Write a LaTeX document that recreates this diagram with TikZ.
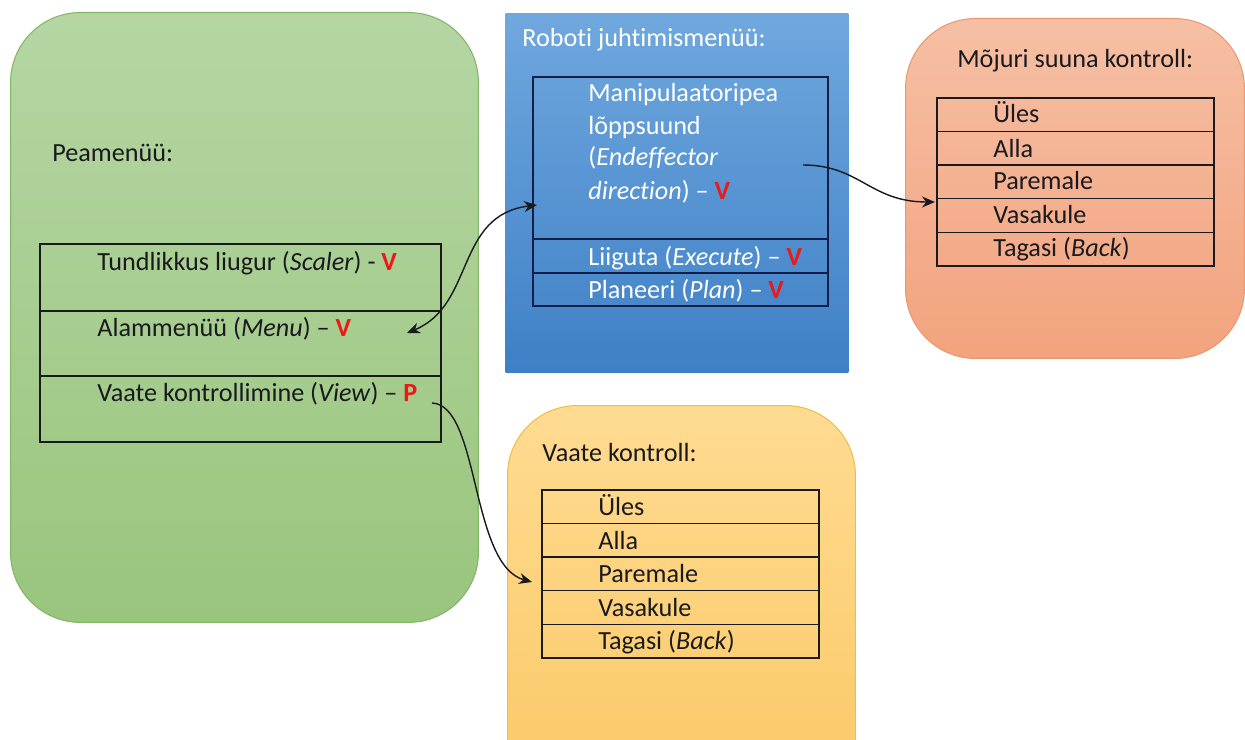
\documentclass[tikz,border=0pt]{standalone}
\usepackage{fontspec}
\setmainfont{Carlito}[Ligatures=NoCommon]
\usepackage{tikz}
\usetikzlibrary{arrows.meta}
\usepackage{xcolor}

\definecolor{greentop}{RGB}{181,214,163}
\definecolor{greenbot}{RGB}{153,197,125}
\definecolor{greenline}{RGB}{132,182,104}
\definecolor{bluetop}{RGB}{112,168,222}
\definecolor{bluebot}{RGB}{62,128,198}
\definecolor{blueline}{RGB}{20,30,70}
\definecolor{orangetop}{RGB}{246,191,164}
\definecolor{orangebot}{RGB}{242,163,126}
\definecolor{orangeline}{RGB}{234,152,112}
\definecolor{yellowtop}{RGB}{255,219,146}
\definecolor{yellowbot}{RGB}{250,200,100}
\definecolor{yellowline}{RGB}{240,190,72}
\definecolor{vred}{RGB}{235,25,25}
\definecolor{ink}{RGB}{25,25,30}

\newcommand\vmark[1]{\textcolor{vred}{\textbf{#1}}}

\begin{document}
\begin{tikzpicture}[x=0.02cm,y=-0.02cm,>={Stealth[length=2.6mm,width=2.2mm]},
  font=\fontsize{14.9}{18.2}\selectfont,
  panel/.style={anchor=north west,inner sep=0pt,rounded corners=1.4cm,line width=0.6pt},
  cell/.style={draw=ink,line width=0.8pt,anchor=north west,inner sep=0pt,outer sep=0pt},
  item/.style={anchor=base west,inner sep=0pt,text=ink},
  link/.style={ink,line width=0.8pt}]
\useasboundingbox (0,0) rectangle (1245,740);
\clip (0,0) rectangle (1245,740);
% panels
\node[panel,draw=greenline,top color=greentop,bottom color=greenbot,minimum width=9.36cm,minimum height=12.2cm] (peamenu) at (10,12) {};
\node[panel,sharp corners,top color=bluetop,bottom color=bluebot,minimum width=6.86cm,minimum height=7.18cm] (robot) at (505,13) {};
\node[panel,draw=orangeline,top color=orangetop,bottom color=orangebot,minimum width=6.78cm,minimum height=6.8cm] (mojur) at (905,18) {};
\node[panel,draw=yellowline,top color=yellowtop,bottom color=yellowbot,minimum width=6.96cm,minimum height=8.2cm] (vaade) at (507,405) {};
% main menu
\node[item] (peatitle) at (52,162) {Peamenüü:};
\node[cell,minimum width=8.02cm,minimum height=1.34cm] (scaler) at (40,244) {};
\node[cell,minimum width=8.02cm,minimum height=1.3cm] (menu) at (scaler.south west) {};
\node[cell,minimum width=8.02cm,minimum height=1.32cm] (view) at (menu.south west) {};
\node[item] (scalertext) at (97,270) {Tundlikkus liugur (\textit{Scaler}) - \vmark{V}};
\node[item] (menutext) at (97,336) {Alammenüü (\textit{Menu}) – \vmark{V}};
\node[item] (viewtext) at (97,401) {Vaate kontrollimine (\textit{View}) – \vmark{P}};
% robot menu
\node[item,text=white] (robottitle) at (522,47) {Roboti juhtimismenüü:};
\node[cell,draw=blueline,minimum width=5.9cm,minimum height=3.24cm] (endeff) at (533,77) {};
\node[cell,draw=blueline,minimum width=5.9cm,minimum height=0.68cm] (liiguta) at (endeff.south west) {};
\node[cell,draw=blueline,minimum width=5.9cm,minimum height=0.66cm] (planeeri) at (liiguta.south west) {};
\node[item,text=white] (endeffa) at (588,102) {Manipulaatoripea};
\node[item,text=white] (endeffb) at (588,134) {lõppsuund};
\node[item,text=white] (endeffc) at (588,166) {(\textit{Endeffector}};
\node[item,text=white] (endeffd) at (588,199) {\textit{direction}) – \vmark{V}};
\node[item,text=white] (liigutatext) at (588,265) {Liiguta (\textit{Execute}) – \vmark{V}};
\node[item,text=white] (planeeritext) at (588,298) {Planeeri (\textit{Plan}) – \vmark{V}};
% effector direction
\node[item] (mojurtitle) at (957,68) {Mõjuri suuna kontroll:};
\node[cell,minimum width=5.54cm,minimum height=0.672cm] (mup) at (937,98) {};
\node[cell,minimum width=5.54cm,minimum height=0.672cm] (mdown) at (mup.south west) {};
\node[cell,minimum width=5.54cm,minimum height=0.672cm] (mright) at (mdown.south west) {};
\node[cell,minimum width=5.54cm,minimum height=0.672cm] (mleft) at (mright.south west) {};
\node[cell,minimum width=5.54cm,minimum height=0.672cm] (mback) at (mleft.south west) {};
\node[item] (muptext) at (993,123) {Üles};
\node[item] (mdowntext) at (993,157) {Alla};
\node[item] (mrighttext) at (993,190) {Paremale};
\node[item] (mlefttext) at (993,223) {Vasakule};
\node[item] (mbacktext) at (993,256) {Tagasi (\textit{Back})};
% view control
\node[item] (vaadetitle) at (542,461) {Vaate kontroll:};
\node[cell,minimum width=5.54cm,minimum height=0.672cm] (vup) at (542,490) {};
\node[cell,minimum width=5.54cm,minimum height=0.672cm] (vdown) at (vup.south west) {};
\node[cell,minimum width=5.54cm,minimum height=0.672cm] (vright) at (vdown.south west) {};
\node[cell,minimum width=5.54cm,minimum height=0.672cm] (vleft) at (vright.south west) {};
\node[cell,minimum width=5.54cm,minimum height=0.672cm] (vback) at (vleft.south west) {};
\node[item] (vuptext) at (598,515) {Üles};
\node[item] (vdowntext) at (598,549) {Alla};
\node[item] (vrighttext) at (598,582) {Paremale};
\node[item] (vlefttext) at (598,616) {Vasakule};
\node[item] (vbacktext) at (598,649) {Tagasi (\textit{Back})};
% connectors
\coordinate (menuend) at (407,333);
\coordinate (endeffend) at (537,205);
\coordinate (endeffstart) at (803,165);
\coordinate (mojurend) at (935,202);
\coordinate (viewstart) at (432,403);
\coordinate (vaadeend) at (532,582);
\draw[link,<->] (menuend) .. controls (475,305) and (455,215) .. (endeffend);
\draw[link,->] (endeffstart) .. controls (860,165) and (870,202) .. (mojurend);
\draw[link,->] (viewstart) .. controls (480,405) and (470,565) .. (vaadeend);
\end{tikzpicture}
\end{document}
